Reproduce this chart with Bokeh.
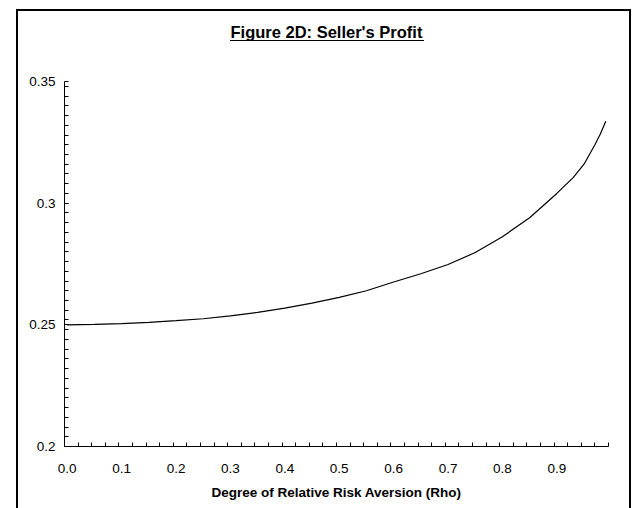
from bokeh.plotting import figure
from bokeh.models import Range1d, FixedTicker, Title, LinearAxis
from bokeh.embed import file_html
from bokeh.resources import INLINE

# Seller's profit as a function of the degree of relative risk aversion
rho = [0.00, 0.05, 0.10, 0.15, 0.20, 0.25, 0.30, 0.35, 0.40, 0.45, 0.50, 0.55,
       0.60, 0.65, 0.70, 0.75, 0.80, 0.85, 0.90, 0.93, 0.95, 0.97, 0.98, 0.99]
profit = [0.2500, 0.2502, 0.2505, 0.2510, 0.2517, 0.2525, 0.2537, 0.2551,
          0.2569, 0.2589, 0.2613, 0.2640, 0.2676, 0.2710, 0.2748, 0.2797,
          0.2862, 0.2940, 0.3040, 0.3105, 0.3160, 0.3240, 0.3284, 0.3337]

x_labels = [0.0, 0.1, 0.2, 0.3, 0.4, 0.5, 0.6, 0.7, 0.8, 0.9]
y_labels = [0.2, 0.25, 0.3, 0.35]

TITLE = "Figure 2D: Seller's Profit"
X_TITLE = "Degree of Relative Risk Aversion (Rho)"
FONT = "Liberation Sans"

p = figure(width=636, height=508, output_backend="svg", toolbar_location=None,
           x_range=Range1d(-0.005, 0.995), y_range=Range1d(0.2, 0.35),
           min_border_left=64, min_border_right=28, min_border_top=81,
           min_border_bottom=62)
p.background_fill_color = "white"
p.border_fill_color = None
p.outline_line_color = None
p.grid.visible = False

# chart-area frame and title underline, painted behind the transparent canvas border
p.styles = {
    "background-color": "white",
    "background-image": ", ".join(["linear-gradient(black, black)"] * 4),
    "background-position": "16px 9px, 16px 9px, 629px 9px, 230px 40px",
    "background-size": "2px 600px, 615px 2px, 2px 600px, 194px 1px",
    "background-repeat": "no-repeat",
}

p.line(rho, profit, line_color="black", line_width=1.2)

# x axis: labels every 0.1, small tick marks every 0.025
xa = p.xaxis[0]
xa.ticker = FixedTicker(ticks=x_labels,
                        minor_ticks=[-0.005 + 0.025 * k for k in range(41)])
xa.major_label_overrides = {v: f"{v:.1f}" for v in x_labels}
xa.major_tick_in = 0
xa.major_tick_out = 0
xa.minor_tick_in = 4
xa.minor_tick_out = 0
xa.axis_label = X_TITLE
xa.axis_label_text_font = FONT
xa.axis_label_text_font_style = "bold"
xa.axis_label_text_font_size = "13.5px"
xa.axis_label_standoff = 9

# y axis: labels every 0.05, minor marks every 0.004
ya = p.yaxis[0]
ya.ticker = FixedTicker(ticks=y_labels,
                        minor_ticks=[0.2 + 0.004 * k for k in range(38)])
ya.major_label_overrides = {0.2: "0.2", 0.25: "0.25", 0.3: "0.3", 0.35: "0.35"}
ya.major_tick_in = 4
ya.major_tick_out = 0
ya.minor_tick_in = 4
ya.minor_tick_out = 0

for ax in (xa, ya):
    ax.axis_line_color = "black"
    ax.axis_line_width = 1
    ax.major_tick_line_color = "black"
    ax.minor_tick_line_color = "black"
    ax.major_label_text_font = FONT
    ax.major_label_text_font_size = "13.5px"
    ax.major_label_text_color = "black"
    ax.axis_label_text_color = "black"
xa.major_label_standoff = 17
ya.major_label_standoff = 9

# blank strip between the plot area and the title
gap = LinearAxis(ticker=FixedTicker(ticks=[0.5]), axis_line_color=None,
                 major_tick_in=0, major_tick_out=19, major_tick_line_color=None,
                 minor_tick_in=0, minor_tick_out=0, minor_tick_line_color=None,
                 major_label_overrides={0.5: ""}, major_label_standoff=0,
                 major_label_text_font_size="0px")
p.add_layout(gap, "above")

# chart title
t = Title(text=TITLE, align="left", vertical_align="top", text_font=FONT,
          text_font_style="bold", text_font_size="16.5px", text_color="black",
          offset=166, standoff=40)
p.add_layout(t, "above")

open("out.html", "w").write(file_html(p, INLINE))
